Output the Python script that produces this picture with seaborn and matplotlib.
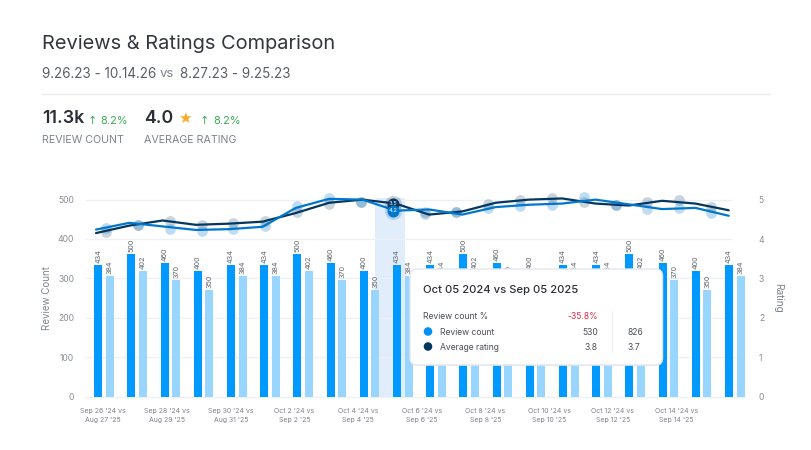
import numpy as np
import pandas as pd
import matplotlib
matplotlib.use("Agg")
import matplotlib.pyplot as plt
from matplotlib.patches import FancyBboxPatch, Circle
import seaborn as sns

days = [f"d{i}" for i in range(20)]
current_bars = [333, 363, 339, 320, 333, 333, 363, 339, 320, 333, 333, 363, 339, 320, 333, 333, 363, 339, 320, 333]
previous_bars = [305, 319, 295, 270, 305, 305, 319, 295, 270, 305, 305, 319, 295, 270, 305, 305, 319, 295, 270, 305]
current_labels = [434, 500, 460, 400, 434, 434, 500, 460, 400, 434, 434, 500, 460, 400, 434, 434, 500, 460, 400, 434]
previous_labels = [384, 402, 370, 350, 384, 384, 402, 370, 350, 384, 384, 402, 370, 350, 384, 384, 402, 370, 350, 384]
rating_line_dark = [4.15, 4.34, 4.47, 4.36, 4.39, 4.44, 4.66, 4.92, 5.0, 4.90, 4.62, 4.70, 4.92, 5.0, 5.03, 4.90, 4.85, 4.97, 4.90, 4.73]
rating_line_blue = [4.24, 4.41, 4.32, 4.23, 4.25, 4.31, 4.79, 5.02, 5.0, 4.72, 4.75, 4.62, 4.81, 4.87, 4.90, 5.0, 4.88, 4.76, 4.79, 4.59]
rating_dots_dark = [4.19, 4.36, 4.45, 4.36, 4.41, 4.45, 4.68, 4.90, 4.94, 4.90, 4.64, 4.68, 4.90, 4.98, 5.03, 4.93, 4.86, 4.95, 4.98, 4.81]
rating_dots_blue = [4.28, 4.36, 4.26, 4.21, 4.26, 4.32, 4.85, 5.04, 4.94, 4.72, 4.69, 4.68, 4.79, 4.83, 4.87, 5.07, 4.86, 4.75, 4.79, 4.66]
tick_labels = ["Sep 26 '24 vs\nAug 27 '25", "Sep 28 '24 vs\nAug 29 '25", "Sep 30 '24 vs\nAug 31 '25",
               "Oct 2 '24 vs\nSep 2 '25", "Oct 4 '24 vs\nSep 4 '25", "Oct 6 '24 vs\nSep 6 '25",
               "Oct 8 '24 vs\nSep 8 '25", "Oct 10 '24 vs\nSep 10 '25", "Oct 12 '24 vs\nSep 12 '25",
               "Oct 14 '24 vs\nSep 14 '25"]

FONT = ["Inter", "DejaVu Sans"]
sns.set_theme(style="white")
plt.rcParams["font.family"] = FONT
plt.rcParams["axes.unicode_minus"] = False

W, H = 812, 450
fig = plt.figure(figsize=(W / 100, H / 100), dpi=100, facecolor="white")
L, R, B, T = 85, 745, 396.5, 176
ax = fig.add_axes([L / W, 1 - B / H, (R - L) / W, (B - T) / H])

df = pd.DataFrame({
    "day": days * 2,
    "count": current_bars + previous_bars,
    "period": ["current"] * 20 + ["previous"] * 20,
})

unit = 33.2
x0 = 104
ax.axvspan((375 - x0) / unit, (405 - x0) / unit, ymin=0, ymax=(396.5 - 198) / (B - T),
           color="#E1EDFB", lw=0, zorder=0)

sns.barplot(data=df, x="day", y="count", hue="period", hue_order=["current", "previous"],
            palette={"current": "#0099FF", "previous": "#99D6FF"}, width=0.7, gap=0.31,
            saturation=1, legend=False, ax=ax, zorder=2, errorbar=None, linewidth=0)

xlim = ((L - x0) / unit, (R - x0) / unit)
ax.set_xlim(*xlim)
ax.set_ylim(0, 560)
ax.set_xlabel("")
ax.set_ylabel("")

for v in [0, 100, 200, 300]:
    ax.hlines(v, xlim[0], xlim[1], color="#EEF0F3", lw=1, zorder=1, clip_on=False)
for v in [400, 500]:
    ax.hlines(v, xlim[0], (732 - x0) / unit, color="#EEF0F3", lw=1, zorder=1)

for s in ax.spines.values():
    s.set_visible(False)

ax.set_yticks([0, 100, 200, 300, 400, 500])
ax.tick_params(axis="y", length=0, labelsize=6.2, labelcolor="#8A8F98", pad=7.8)
tick_pos = (103.3 - x0) / unit + np.arange(len(tick_labels)) * 63.7 / unit
ax.set_xticks(tick_pos)
ax.set_xticklabels(tick_labels, fontsize=5.0, color="#7E838C", linespacing=1.6)
ax.tick_params(axis="x", length=3, width=0.8, color="#D8DBE0", pad=5.5)

bar_offset = 5.85 / unit
for i, (h, lab) in enumerate(zip(current_bars, current_labels)):
    ax.text(i - bar_offset, h + 5, str(lab), rotation=90, ha="center", va="bottom",
            fontsize=5.2, color="#5F646C", zorder=3)
for i, (h, lab) in enumerate(zip(previous_bars, previous_labels)):
    ax.text(i + bar_offset, h + 5, str(lab), rotation=90, ha="center", va="bottom",
            fontsize=5.2, color="#5F646C", zorder=3)

ax2 = ax.twinx()
ax2.set_ylim(0, 5.6)
ax2.set_yticks([0, 1, 2, 3, 4, 5])
ax2.tick_params(axis="y", length=0, labelsize=6.2, labelcolor="#8A8F98", pad=10)
ax2.set_ylabel("")
for s in ax2.spines.values():
    s.set_visible(False)

line_x = (96 - x0) / unit + np.arange(20) * 33.3 / unit
dot_x = (106 - x0) / unit + np.arange(20) * 31.85 / unit

sns.scatterplot(x=dot_x, y=rating_dots_dark, color="#0A3D66", alpha=0.22, s=60, linewidth=0, ax=ax2, zorder=3, legend=False)
sns.scatterplot(x=dot_x, y=rating_dots_blue, color="#0077CC", alpha=0.25, s=60, linewidth=0, ax=ax2, zorder=3, legend=False)
sns.lineplot(x=line_x, y=rating_line_dark, color="#05365F", lw=1.6, ax=ax2, zorder=4, legend=False)
sns.lineplot(x=line_x, y=rating_line_blue, color="#0077CC", lw=1.6, ax=ax2, zorder=5, legend=False)
ax2.set_xlim(*xlim)

sel = 9
for vals, col, txt in [(rating_dots_dark, "#05365F", "3.5"), (rating_dots_blue, "#0077CC", "4.2")]:
    ax2.scatter([dot_x[sel]], [vals[sel]], s=150, color=col, alpha=0.22, linewidth=0, zorder=6)
    ax2.scatter([dot_x[sel]], [vals[sel]], s=75, color=col, linewidth=0, zorder=7)
    ax2.text(dot_x[sel], vals[sel], txt, color="white", fontsize=4.2, ha="center", va="center", zorder=8)


def t(x, y, s, **kw):
    kw.setdefault("va", "center")
    kw.setdefault("zorder", 6)
    return fig.text(x / W, 1 - (y + 1.2) / H, s, **kw)


t(42, 42.5, "Reviews & Ratings Comparison", fontsize=14.4, color="#33373D")
t(42, 72.5, "9.26.23 - 10.14.26", fontsize=9.7, color="#5A5F66")
t(160, 73, "vs", fontsize=9.5, color="#7E838C")
t(180, 72.5, "8.27.23 - 9.25.23", fontsize=9.7, color="#5A5F66")
fig.add_artist(plt.Line2D([42 / W, 770 / W], [1 - 93.5 / H] * 2, color="#E9EBEE", lw=1))

t(42, 117, "11.3k", fontsize=12.8, color="#2B2F36", fontweight="semibold")
t(88, 120, "↑", fontsize=8, color="#3DAA57", family="DejaVu Sans")
t(100.5, 120, "8.2%", fontsize=8, color="#3DAA57")
t(144, 117, "4.0", fontsize=12.8, color="#2B2F36", fontweight="semibold")
t(178, 117, "★", fontsize=11, color="#F9A825", family="DejaVu Sans")
t(199.5, 120, "↑", fontsize=8, color="#3DAA57", family="DejaVu Sans")
t(213, 120, "8.2%", fontsize=8, color="#3DAA57")
t(42, 139, "REVIEW COUNT", fontsize=7.7, color="#7E838C")
t(144, 139, "AVERAGE RATING", fontsize=7.7, color="#7E838C")

t(46.7, 297, "Review Count", fontsize=7.0, color="#7E838C", rotation=90, ha="center")
t(778, 297, "Rating", fontsize=7.2, color="#7E838C", rotation=270, ha="center")

to_px = matplotlib.transforms.Affine2D().scale(1 / W, 1 / H) + fig.transFigure
shadow = FancyBboxPatch((410, 450 - 366), 253, 97, boxstyle="round,pad=0,rounding_size=7",
                        transform=to_px, fc="#DDE1EA", ec="none", alpha=0.55, zorder=5)
box = FancyBboxPatch((410, 450 - 365), 252.5, 96, boxstyle="round,pad=0,rounding_size=7",
                     transform=to_px, fc="white", ec="#E3E6EF", lw=1, zorder=5.1)
fig.add_artist(shadow)
fig.add_artist(box)
t(423.5, 289, "Oct 05 2024 vs Sep 05 2025", fontsize=8.1, color="#2B2F36", fontweight="medium")
t(423.5, 315.5, "Review count %", fontsize=6.2, color="#4A4F57")
t(598, 315.5, "-35.8%", fontsize=6.2, color="#E0284A", ha="right")
t(440, 331, "Review count", fontsize=6.2, color="#4A4F57")
t(598, 331, "530", fontsize=6.2, color="#4A4F57", ha="right")
t(627.5, 331, "826", fontsize=6.2, color="#4A4F57")
t(440, 346, "Average rating", fontsize=6.2, color="#4A4F57")
t(598, 346, "3.8", fontsize=6.2, color="#4A4F57", ha="right")
t(627.5, 346, "3.7", fontsize=6.2, color="#4A4F57")
fig.add_artist(plt.Line2D([612.5 / W] * 2, [1 - 311 / H, 1 - 352 / H], color="#EEF0F3", lw=1, zorder=6))
for yy, col in [(331.5, "#0090F5"), (346.5, "#05365F")]:
    fig.add_artist(Circle((428, 450 - yy), 4.3, fc=col, ec="none", zorder=6, transform=to_px))

fig.savefig("out.png", dpi=100)
